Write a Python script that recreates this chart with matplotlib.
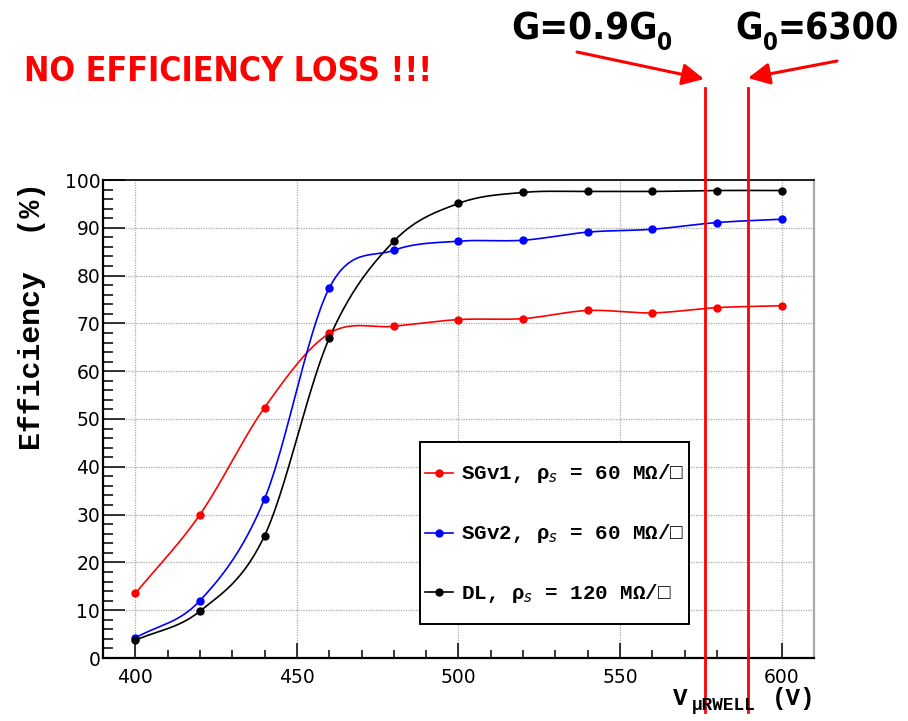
"""Efficiency vs V_uRWELL for the three resistive layouts."""

import matplotlib
matplotlib.use("Agg")
import matplotlib.font_manager as fm
import matplotlib.pyplot as plt
import numpy as np
from matplotlib.font_manager import FontProperties
from matplotlib.lines import Line2D
from matplotlib.patches import FancyArrowPatch
from matplotlib.ticker import MultipleLocator

# ----------------------------- data -----------------------------
VOLTAGE = [400, 420, 440, 460, 480, 500, 520, 540, 560, 580, 600]
EFF_SGV1 = [13.5, 30.0, 52.4, 67.9, 69.4, 70.8, 71.0, 72.7, 72.2, 73.3, 73.7]
EFF_SGV2 = [4.2, 12.0, 33.3, 77.4, 85.3, 87.2, 87.4, 89.1, 89.7, 91.1, 91.8]
EFF_DL = [3.7, 9.8, 25.6, 66.9, 87.2, 95.1, 97.4, 97.6, 97.6, 97.8, 97.8]

SERIES_LABELS = [
    "SGv1, ρ$_{s}$ = 60 MΩ/□",
    "SGv2, ρ$_{s}$ = 60 MΩ/□",
    "DL, ρ$_{s}$ = 120 MΩ/□",
]
SERIES_COLORS = ["#ff0000", "#0000ff", "#000000"]

# voltages of the two gain markers (G = 0.9 G0 and G0 = 6300)
GAIN_MARKER_V = [576.4, 589.6]

W, H = 908, 721
MONO = ["Liberation Mono", "DejaVu Sans Mono"]


def find_condensed_bold():
    for f in fm.fontManager.ttflist:
        name = f.name.lower()
        narrow = ("narrow" in name or "condensed" in name
                  or f.stretch in ("condensed", "semi-condensed", "extra-condensed"))
        weight = f.weight if isinstance(f.weight, int) else {"bold": 700, "heavy": 800,
                                                             "black": 900}.get(f.weight, 400)
        if narrow and weight >= 600 and f.style == "normal":
            return FontProperties(fname=f.fname)
    return FontProperties(family=["Liberation Sans", "DejaVu Sans"], weight="bold")


def smooth_curve(x, y, n=30):
    """Catmull-Rom curve through the points (like ROOT's "C" draw option)."""
    x = np.asarray(x, float)
    y = np.asarray(y, float)
    xp = np.concatenate([[2 * x[0] - x[1]], x, [2 * x[-1] - x[-2]]])
    yp = np.concatenate([[2 * y[0] - y[1]], y, [2 * y[-1] - y[-2]]])
    t = np.linspace(0.0, 1.0, n, endpoint=False)
    h00 = 2 * t**3 - 3 * t**2 + 1
    h10 = t**3 - 2 * t**2 + t
    h01 = -2 * t**3 + 3 * t**2
    h11 = t**3 - t**2
    xs, ys = [], []
    for i in range(1, len(xp) - 2):
        for arr, out in ((xp, xs), (yp, ys)):
            m1 = (arr[i + 1] - arr[i - 1]) / 2
            m2 = (arr[i + 2] - arr[i]) / 2
            out.append(h00 * arr[i] + h10 * m1 + h01 * arr[i + 1] + h11 * m2)
    xs.append([x[-1]])
    ys.append([y[-1]])
    return np.concatenate(xs), np.concatenate(ys)


def draw_pieces(fig, x_px, baseline_px, pieces, width_px=None, **kw):
    """Draw text pieces left to right; each piece is (text, size, dy_px).

    If width_px is given, the sizes are scaled so the run fills that width."""
    renderer = fig.canvas.get_renderer()

    def place(scale):
        x = x_px
        drawn = []
        for text, size, dy in pieces:
            t = fig.text(x / W, 1 - (baseline_px + dy) / H, text,
                         fontsize=size * scale, ha="left", va="baseline", **kw)
            x += t.get_window_extent(renderer).width
            drawn.append(t)
        return drawn, x - x_px

    drawn, total = place(1.0)
    if width_px is not None:
        for t in drawn:
            t.remove()
        place(width_px / total)


def main():
    fig = plt.figure(figsize=(W / 100, H / 100), dpi=100)
    ax = fig.add_axes([103 / W, 1 - 658 / H, 711 / W, 478 / H])

    handles = []
    for eff, color, label in zip((EFF_SGV1, EFF_SGV2, EFF_DL), SERIES_COLORS, SERIES_LABELS):
        xs, ys = smooth_curve(VOLTAGE, eff)
        ax.plot(xs, ys, color=color, lw=1.2, zorder=3)
        ax.plot(VOLTAGE, eff, "o", color=color, ms=5, zorder=4)
        handles.append(Line2D([], [], color=color, lw=1.2, marker="o", ms=5, label=label))

    ax.set_xlim(390, 610)
    ax.set_ylim(0, 100)
    ax.xaxis.set_major_locator(MultipleLocator(50))
    ax.xaxis.set_minor_locator(MultipleLocator(10))
    ax.yaxis.set_major_locator(MultipleLocator(10))
    ax.yaxis.set_minor_locator(MultipleLocator(2))
    ax.grid(True, which="major", ls=(0, (1, 1)), color="#aaaaaa", lw=0.9)

    ax.tick_params(which="both", direction="in", top=False, right=False, width=1.1,
                   labelsize=13.5)
    ax.tick_params(axis="y", which="major", length=16, pad=2)
    ax.tick_params(axis="y", which="minor", length=7.5)
    ax.tick_params(axis="x", which="major", length=11, pad=7)
    ax.tick_params(axis="x", which="minor", length=6)

    for side in ("left", "bottom"):
        ax.spines[side].set_linewidth(1.6)
    ax.spines["top"].set_linewidth(1.2)
    ax.spines["right"].set_color("#aaaaaa")
    ax.spines["right"].set_linewidth(1.6)

    leg = ax.legend(handles=handles, loc="upper left", bbox_to_anchor=(0.446, 0.452),
                    borderaxespad=0, fancybox=False, framealpha=1, edgecolor="black",
                    prop=FontProperties(family=MONO, weight="bold", size=15),
                    labelspacing=0.40, borderpad=0.25, handleheight=3.43,
                    handlelength=1.35, handletextpad=0.34)
    leg.get_frame().set_linewidth(1.4)
    leg.set_zorder(5)
    # the tall handle boxes put the sample line too high: bring it level with the text
    for h in leg.legend_handles:
        h.set_ydata(np.asarray(h.get_ydata(), float) - 7.0)

    # vertical markers of the two gain points
    for v in GAIN_MARKER_V:
        ax.axvline(v, ymin=-0.113, ymax=1.192, color="#ff0000", lw=2.0, clip_on=False, zorder=6)

    fig.text(32 / W, 1 - 316 / H, "Efficiency  (%)", rotation=90, ha="center", va="center",
             family=MONO, weight="bold", fontsize=21.5)

    fig.text(673 / W, 1 - 705 / H, "V", ha="left", va="baseline",
             family=MONO, weight="bold", fontsize=17.5)
    fig.text(692 / W, 1 - 710 / H, "μRWELL", ha="left", va="baseline",
             family=MONO, weight="bold", fontsize=12.8)
    fig.text(815 / W, 1 - 705 / H, "(V)", ha="right", va="baseline",
             family=MONO, weight="bold", fontsize=17.5)

    head = find_condensed_bold()
    draw_pieces(fig, 24, 81, [("NO EFFICIENCY LOSS !!!", 30, 0)], width_px=408,
                fontproperties=head, color="#ff0000")
    draw_pieces(fig, 511, 40, [("G=0.9G", 33, 0), ("0", 21, 10)], width_px=162,
                fontproperties=head)
    draw_pieces(fig, 735, 40, [("G", 33, 0), ("0", 21, 10), ("=6300", 33, 0)], width_px=164,
                fontproperties=head)

    arrow = dict(arrowstyle="-|>,head_length=1.1,head_width=0.55", color="#ff0000", lw=2.2,
                 shrinkA=0, shrinkB=0, mutation_scale=12, transform=fig.transFigure)
    fig.add_artist(FancyArrowPatch((577 / W, 1 - 52 / H), (704 / W, 1 - 79 / H), **arrow))
    fig.add_artist(FancyArrowPatch((837 / W, 1 - 61 / H), (748 / W, 1 - 78 / H), **arrow))

    fig.savefig("out.png", dpi=100)
    plt.close("all")


if __name__ == "__main__":
    main()
